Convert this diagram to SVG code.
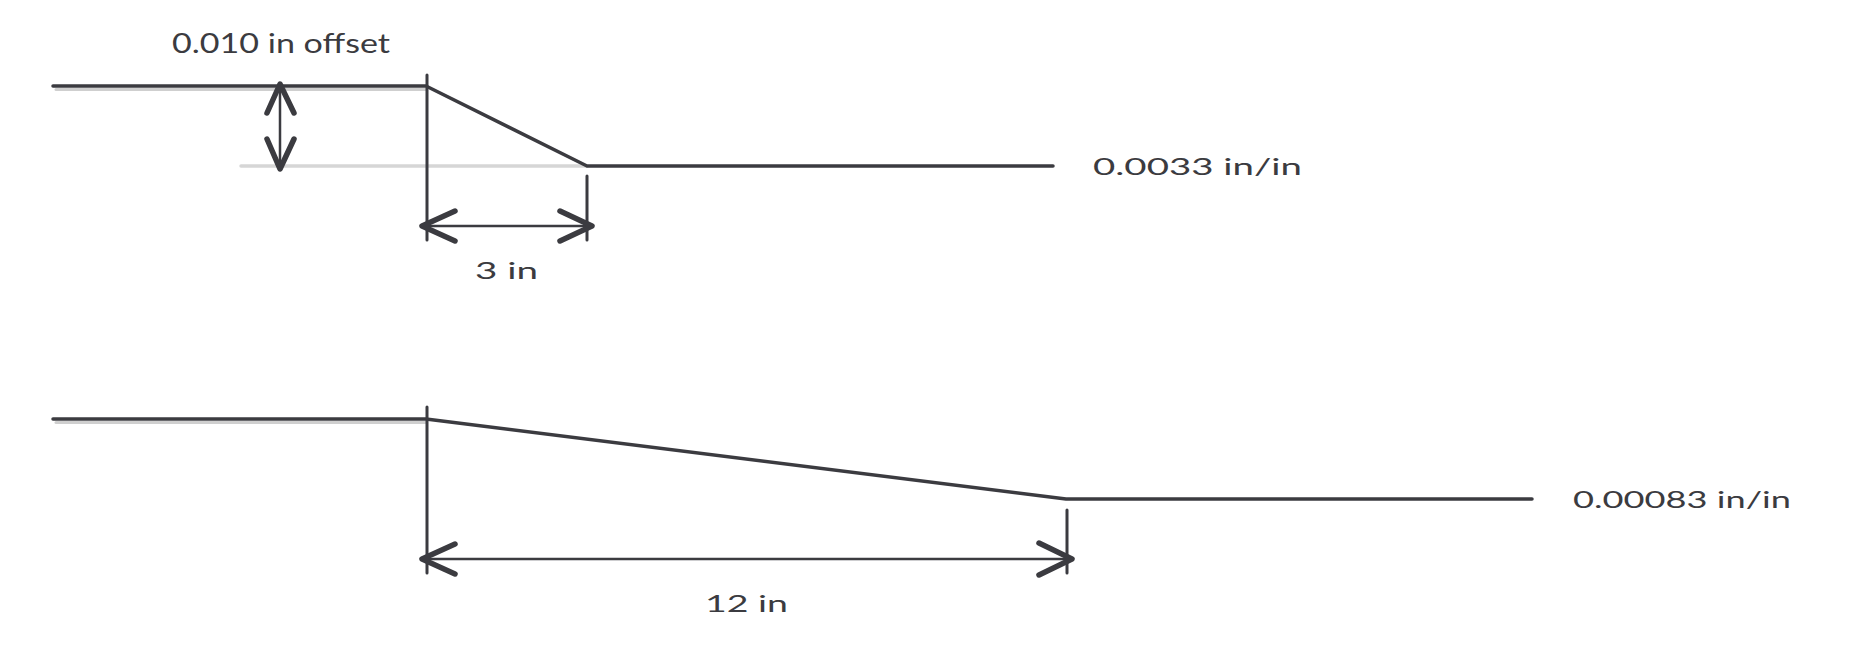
<svg xmlns="http://www.w3.org/2000/svg" width="1867" height="653" viewBox="0 0 1867 653">
<style>
.bg{fill:#ffffff}
.main{fill:none;stroke:#3b3b40;stroke-width:3.5;stroke-linecap:round;stroke-linejoin:round}
.ext{fill:none;stroke:#3b3b40;stroke-width:3;stroke-linecap:round}
.dim{fill:none;stroke:#3b3b40;stroke-width:2.5;stroke-linecap:round}
.head{fill:none;stroke:#3b3b40;stroke-width:5.5;stroke-linecap:round;stroke-linejoin:round}
.shadow{fill:none;stroke:#cfcfcf;stroke-width:3;stroke-linecap:round}
.ref{fill:none;stroke:#d6d6d6;stroke-width:3.5;stroke-linecap:round}
.lbl{font-family:"Lato","Liberation Sans",sans-serif;fill:#3b3b40}
</style>
<rect class="bg" x="0" y="0" width="1867" height="653"/>

<g id="top-profile">
  <line class="shadow" x1="56" y1="89.5" x2="426" y2="89.5"/>
  <line class="ref" x1="241" y1="166" x2="587" y2="166"/>
  <polyline class="main" points="53,86 426,86 587,166 1053,166"/>
</g>

<g id="bottom-profile">
  <line class="shadow" x1="56" y1="422.5" x2="426" y2="422.5"/>
  <polyline class="main" points="53,419 426,419 1066,499 1532,499"/>
</g>

<g id="connectors">
  <line class="ext" x1="427" y1="75" x2="427" y2="240"/>
  <line class="ext" x1="587" y1="176" x2="587" y2="240"/>
  <line class="dim" x1="422" y1="226" x2="592" y2="226"/>
  <polyline class="head" points="455,211 422,226 455,241"/>
  <polyline class="head" points="560,211 592,226 560,241"/>
  <line class="dim" x1="280" y1="84" x2="280" y2="169"/>
  <polyline class="head" points="267,113 280,84 294,113"/>
  <polyline class="head" points="267,139 280,169 294,139"/>
  <line class="ext" x1="427" y1="407" x2="427" y2="573"/>
  <line class="ext" x1="1067" y1="510" x2="1067" y2="573"/>
  <line class="dim" x1="422" y1="559" x2="1072" y2="559"/>
  <polyline class="head" points="455,544 422,559 455,574"/>
  <polyline class="head" points="1039,543 1072,559 1039,575"/>
</g>

<g id="label-offset">
  <text class="lbl" x="172" y="53" font-size="26" textLength="218" lengthAdjust="spacingAndGlyphs">0.010 in offset</text>
</g>
<g id="label-3in">
  <text class="lbl" x="475" y="279" font-size="24" textLength="63" lengthAdjust="spacingAndGlyphs">3 in</text>
</g>
<g id="label-slope-top">
  <text class="lbl" x="1093" y="175" font-size="24" textLength="209" lengthAdjust="spacingAndGlyphs">0.0033 in/in</text>
</g>
<g id="label-12in">
  <text class="lbl" x="705" y="612" font-size="24" textLength="83" lengthAdjust="spacingAndGlyphs">12 in</text>
</g>
<g id="label-slope-bottom">
  <text class="lbl" x="1573" y="508" font-size="24" textLength="218" lengthAdjust="spacingAndGlyphs">0.00083 in/in</text>
</g>
</svg>
